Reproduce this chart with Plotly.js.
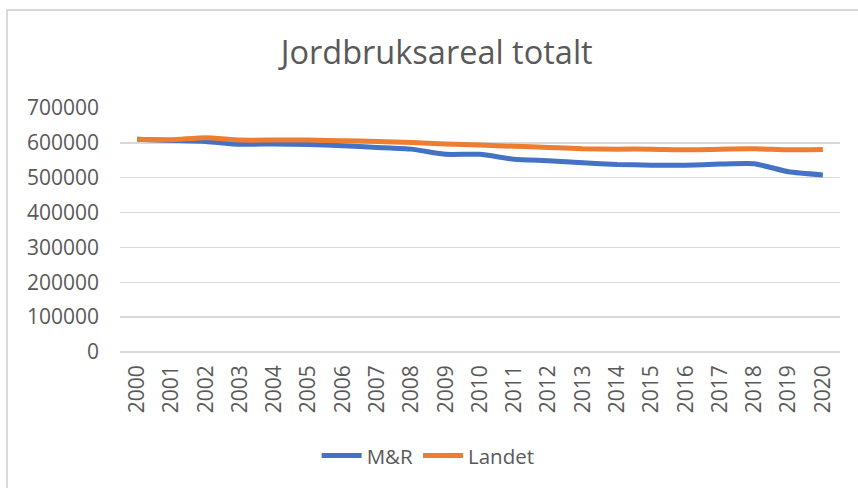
<!DOCTYPE html>
<html>
<head>
<meta charset="utf-8">
<script src="https://cdn.plot.ly/plotly-3.0.1.min.js"></script>
<style>
html,body{margin:0;padding:0;background:#fff;}
#wrap{position:relative;width:858px;height:488px;overflow:hidden;}
#chart{width:858px;height:488px;}
#frame{position:absolute;left:6px;top:9px;width:900px;height:520px;border-left:2px solid #d9d9d9;border-top:2px solid #d9d9d9;pointer-events:none;}
</style>
</head>
<body>
<div id="wrap"><div id="chart"></div><div id="frame"></div></div>
<script>
var years = ["2000","2001","2002","2003","2004","2005","2006","2007","2008","2009","2010","2011","2012","2013","2014","2015","2016","2017","2018","2019","2020"];
var mrValues = [610000,607000,604000,596000,597000,595000,592000,587000,582000,567000,567000,553000,549000,543000,538000,536000,536000,539000,540000,517000,508000];
var landetValues = [610500,609000,615000,608000,608000,608000,606000,604000,601000,597000,594000,590000,587000,583000,582000,582000,580000,582000,583000,580000,581000];
var yTicks = [0,100000,200000,300000,400000,500000,600000,700000];
var seriesNames = ["M&R","Landet"];
var titleText = "Jordbruksareal totalt";

var font = "'Open Sans', 'Noto Sans', sans-serif";
var traces = [
  {x: years, y: mrValues, name: seriesNames[0], type: "scatter", mode: "lines",
   line: {color: "#4472C4", width: 5, shape: "spline", smoothing: 0.5}},
  {x: years, y: landetValues, name: seriesNames[1], type: "scatter", mode: "lines",
   line: {color: "#ED7D31", width: 5, shape: "spline", smoothing: 0.5}}
];
var layout = {
  width: 858, height: 488,
  margin: {l: 120, r: 18, t: 108, b: 136},
  paper_bgcolor: "#ffffff", plot_bgcolor: "#ffffff",
  showlegend: true,
  title: {text: titleText, font: {family: font, size: 32.5, color: "#595959"},
          xref: "container", x: 0.509, xanchor: "center",
          yref: "container", y: 0.893, yanchor: "middle"},
  xaxis: {type: "category", range: [-0.5, 20.5], tickangle: -90,
          showgrid: false, showline: false, zeroline: false, ticks: "",
          ticklabelstandoff: 8,
          tickfont: {family: font, size: 21, color: "#595959"}},
  yaxis: {range: [0, 700000], tickvals: yTicks, ticktext: yTicks.map(String),
          showgrid: true, gridcolor: "#d9d9d9", gridwidth: 1.3,
          zeroline: true, zerolinecolor: "#d9d9d9", zerolinewidth: 1.3,
          showline: false, ticks: "", ticklabelstandoff: 20,
          tickfont: {family: font, size: 21, color: "#595959"}},
  legend: {orientation: "h", xref: "container", yref: "container",
           x: 0.499, xanchor: "center", y: 0.066, yanchor: "middle",
           font: {family: font, size: 20.5, color: "#595959"},
           itemwidth: 40, traceorder: "normal"}
};
Plotly.newPlot("chart", traces, layout, {staticPlot: true, displayModeBar: false});
</script>
</body>
</html>
